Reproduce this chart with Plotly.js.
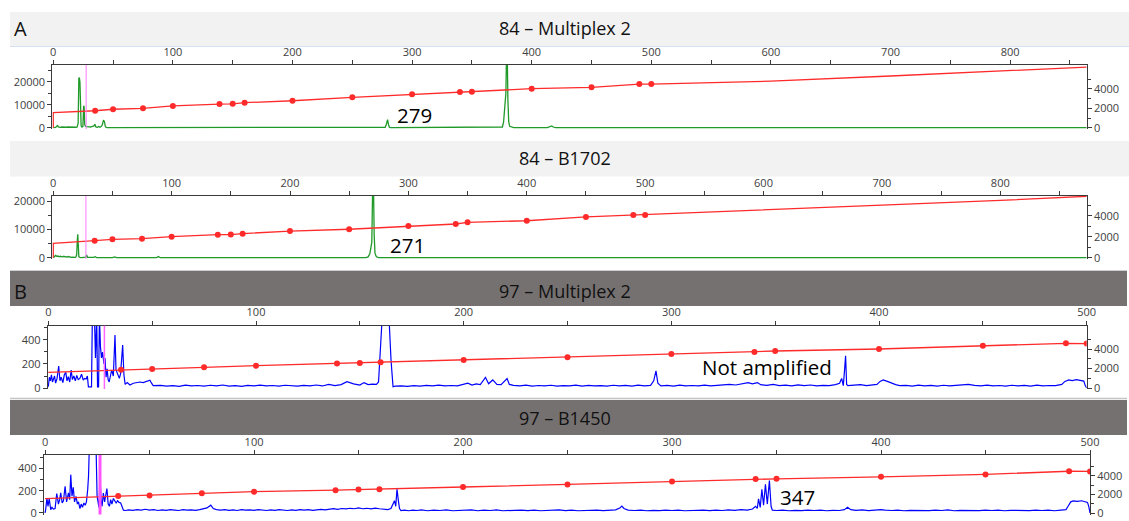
<!DOCTYPE html>
<html><head><meta charset="utf-8">
<script src="https://cdn.plot.ly/plotly-3.0.1.min.js"></script>
<style>html,body{margin:0;padding:0;background:#fff;}#chart{width:1129px;height:521px;}</style>
</head><body><div id="chart"></div>
<script>
// ---------- DATA ----------
const panelTitles = ["84 – Multiplex 2", "84 – B1702", "97 – Multiplex 2", "97 – B1450"];
const panelLetters = ["A", "B"];
const peakLabels = ["279", "271", "Not amplified", "347"];
const sizeStd = [35,50,75,100,139,150,160,200,250,300,340,350,400,450,490,500];
const primerPeakSize = [27.5, 27.6, 27, 26.3];
const rfuTicksAB = [0, 10000, 20000];
const rfuTicksCD = [0, 200, 400];
const scanTicks = [0, 2000, 4000];

// size-standard calibration (right axis, data points)
const p1StdScan = [1750,1900,2000,2240,2440,2460,2580,2780,3130,3440,3680,3700,4020,4160,4500,4500];
const p1LineSize = [0,0,35,50,75,100,139,150,160,200,250,300,340,350,400,450,490,500,600,700,800,864];
const p1LineScan = [0,1546,1750,1900,2000,2240,2440,2460,2580,2780,3130,3440,3680,3700,4020,4160,4500,4500,4800,5330,5900,6250];

const p2StdScan = [1620,1750,1810,2000,2190,2200,2290,2540,2710,3020,3210,3370,3520,3880,4070,4070];
const p2LineSize = [0,0,35,50,75,100,139,150,160,200,250,300,340,350,400,450,490,500,600,700,800,873];
const p2LineScan = [0,1370,1620,1750,1810,2000,2190,2200,2290,2540,2710,3020,3210,3370,3520,3880,4070,4070,4550,5000,5450,5850];

const p3StdScan = [1877,1949,2123,2287,2513,2564,2636,2872,3149,3487,3692,3795,4000,4338,4585,4560];
const p3LineSize = [0,35,50,75,100,139,150,160,200,250,300,340,350,400,450,490,500];
const p3LineScan = [1610,1877,1949,2123,2287,2513,2564,2636,2872,3149,3487,3692,3795,4000,4338,4585,4560];

const p4StdScan = [1830,1900,2130,2300,2460,2530,2560,2800,3080,3400,3660,3680,3900,4160,4500,4480];
const p4LineSize = [0,35,50,75,100,139,150,160,200,250,300,340,350,400,450,490,500];
const p4LineScan = [1560,1830,1900,2130,2300,2460,2530,2560,2800,3080,3400,3660,3680,3900,4160,4500,4480];

// sample traces (size in bp, RFU)
const p1Size = [0,1,2,3,3.6,4.2,5,6,7,8,9,10,11,12,13,14,15,16,17,18,19,20,20.8,21.4,21.8,22.3,22.8,23.3,24,24.8,25.4,25.8,26.3,27,28,29,30,31,32,33,34,34.8,35.6,37,38,39,40,41,42,42.8,43.6,45,275,277.5,278.5,279.5,280.3,281,282,374,375.5,376.5,377.2,377.8,378.4,378.9,379.6,380.1,380.8,381.6,383,385,413,415,416.8,418,420,864];
const p1Rfu = [0,200,100,700,1100,300,200,150,300,200,350,150,200,300,250,200,350,200,150,250,200,300,2000,21500,21800,20000,12000,800,300,600,9500,9000,1500,600,500,300,400,300,500,600,800,1500,300,200,500,200,500,1200,3300,2600,400,0,0,200,1500,3500,1400,200,0,0,300,2500,7000,7700,15000,30000,30000,12000,2500,600,200,0,0,400,750,300,0,0];

const p2Size = [0,1,2,3,4,5,6,7,8,9,10,11,12,13,14,15,16,17,18,19,19.8,20.3,20.7,21.1,21.6,22.5,24,27.5,28.2,29,31,34,35.6,36.8,50,52,53.5,87,88.8,90.5,264,266,267.5,268.5,269.1,269.8,270.5,271.1,271.8,273,275,873];
const p2Rfu = [0,300,800,500,600,300,500,400,300,500,300,400,200,400,200,100,200,100,100,200,1000,6000,8300,5000,400,100,0,200,950,100,0,100,350,0,0,250,0,0,400,0,0,300,1500,5000,5500,24000,26000,8000,1500,300,0,0];

const p3Size = [0,0.5,1,1.5,2,3,3.5,4.2,5,5.6,6.2,7,7.7,8.4,9,9.6,10.3,11,11.6,12.3,13,13.7,14.4,15.2,16,16.8,17.5,18.2,18.8,19.3,20.8,21.2,22.2,22.7,23.3,23.7,24.2,24.6,25.1,25.6,26.1,26.8,27.3,27.8,28.3,28.8,29.3,30,30.5,31.3,32.1,32.6,33.2,34.2,34.8,35.8,36.4,37,38,39.3,40.9,42.5,44.1,45.7,47.3,48.9,49.7,50.5,
 54,57,60,63,66,69,72,75,78,81,84,87,90,93,96,99,102,105,108,111,114,117,120,123,126,129,132,135,138,141,143.8,147,150,152,154,156,158,159,159.5,160,160.8,162,163,164,164.6,165,165.5,166,167,170,173,176,179,182,185,188,191,194,197,200,202,204,206,208,210.5,212,214,216,218,220.9,222,224,227,230,233,236,239,242,245,248,251,254,257,260,263,266,269,272,275,278,281,284,287,290,291.5,292.6,293.5,295,298,301,304,307,310,313,316,319,322,325,328,331,334,337,339,341.5,343,346,349,352,355,358,361,364,367,370,373,376,379,381,382,382.8,383.4,383.9,384.4,385,388,391,394,397,399,400.5,402,404,406,408,410,413,416,419,422,425,428,431,434,437,440,443,446,449,452,455,458,461,464,467,470,473,476,479,482,485,488,489.5,491.4,493,495,497,498.6,499.3,500];
const p3Rfu = [10,90,60,110,50,100,40,80,183,60,90,45,110,130,60,95,50,150,70,100,60,105,70,80,115,65,80,75,100,10,10,600,600,250,600,10,10,600,345,250,300,200,250,90,160,70,50,100,150,100,442,150,120,80,120,358,110,30,45,25,40,45,50,45,55,65,40,20,
 22,15,20,14,24,17,21,15,23,18,25,16,20,14,22,17,24,18,21,15,23,19,16,22,18,25,17,30,20,28,53,35,25,45,28,32,30,50,200,440,600,560,600,600,300,240,120,10,15,18,14,20,16,22,18,24,17,21,18,30,40,25,35,28,89,35,67,30,28,78,30,22,18,24,16,21,17,23,15,20,18,24,16,22,17,20,15,23,18,22,16,24,18,22,60,142,40,18,22,16,24,18,21,17,24,18,22,20,30,25,32,45,35,45,28,22,30,20,24,18,26,20,25,18,22,20,28,40,80,20,150,269,30,20,24,28,20,26,30,55,67,55,40,28,20,22,16,24,18,22,15,23,18,21,26,30,22,18,24,17,21,15,23,18,22,16,24,18,21,20,30,55,68,62,70,64,58,20,0];

const p4Size = [0,0.3,0.9,1.4,2.0,2.7,3.3,4.0,4.8,5.6,6.4,7.0,7.5,8.2,8.8,9.6,10.3,11.2,11.8,12.3,12.9,13.5,14.1,14.8,15.5,16.0,16.7,17.3,17.9,18.6,19.2,19.8,20.4,20.8,21.2,22.5,23.8,24.4,24.9,25.3,25.8,26.3,26.8,27.3,27.9,28.5,29.1,29.6,30.2,30.8,31.4,32.0,32.7,33.4,34.0,34.7,35.4,36.2,36.9,37.5,38.5,40,42,44,46,48,50,52,54,56,58,60,62,64,66,68,70,72,74,76,77.5,79.3,80.5,82,84,86,88,90,92,94,96,98,100,102,104,106,108,110,112,114,116,118,120,122,124,126,128,130,132,134,136,138,140,142,144,146,148,150,152,154,156,158,160,162,164,165.5,166.5,167.2,167.8,168.4,169,169.6,170.3,172,174,176,178,180,183,186,189,192,195,198,201,204,207,210,213,216,219,222,225,228,231,234,237,240,243,246,249,252,255,258,261,264,267,270,273,275,276,277,279,282,285,288,291,294,297,300,303,306,309,312,315,318,321,324,327,330,333,336,338.5,340,340.8,341.4,342.2,343,343.8,344.7,345.6,346.6,347.4,348,350,353,356,359,362,365,368,371,374,377,380,382.5,384,385.5,388,391,394,397,400,402,405,408,411,414,417,420,423,426,429,432,435,438,441,444,447,450,453,456,459,462,465,468,471,474,477,480,483,486,488.5,489.5,490.8,492,494,496,498,498.8,499.4,500];
const p4Rfu = [0,30,135,60,130,30,50,35,40,175,80,120,180,90,110,240,100,180,120,345,150,230,100,150,80,100,40,80,50,90,70,100,210,330,600,600,600,600,150,80,50,343,120,60,180,100,150,220,80,60,120,80,130,100,90,110,95,90,60,25,22,28,24,30,26,33,25,30,22,28,24,30,26,22,30,25,28,23,30,35,45,70,40,30,25,30,24,28,22,30,25,28,24,30,26,22,28,24,30,25,22,28,24,30,26,30,24,28,32,28,36,38,33,40,36,42,38,45,38,42,36,44,38,34,30,40,90,110,60,214,120,40,22,25,20,26,22,28,20,25,22,27,20,24,22,28,20,25,22,27,20,24,22,26,21,25,20,24,22,27,21,25,20,24,22,26,21,25,28,45,62,40,25,22,26,20,24,21,25,22,26,20,24,22,26,21,25,22,28,24,30,26,35,60,40,128,50,214,70,257,80,291,60,25,22,26,20,24,21,26,22,25,20,24,22,30,51,30,24,27,21,25,30,26,22,26,20,24,22,26,21,25,22,27,20,24,22,26,21,25,22,26,20,24,22,26,21,25,22,26,20,25,30,60,100,108,104,110,102,95,60,0];

// ---------- LAYOUT HELPERS ----------
const W = 1129, H = 521;
const px = v => v / W;
const py = v => 1 - v / H;
const axisCol = '#3a3a3a';
const tickFont = {family: 'Open Sans, sans-serif', size: 11, color: '#404040'};

function xAx(l, r, range, anchor) {
  return {domain: [px(l), px(r)], range: range, side: 'top', anchor: anchor,
    showline: true, linecolor: axisCol, linewidth: 1, ticks: 'outside', ticklen: 4, tickcolor: axisCol,
    tick0: 0, dtick: 100, minor: {dtick: 50, ticks: 'outside', ticklen: 4, tickcolor: axisCol, showgrid: false},
    showgrid: false, zeroline: false, tickfont: tickFont, fixedrange: true, ticklabeloverflow: 'allow'};
}
function yAx(t, b, range, anchor, vals, minorVals, side, overlay) {
  const a = {domain: [py(b), py(t)], range: range, anchor: anchor, side: side,
    showline: true, linecolor: axisCol, linewidth: 1, ticks: 'outside', ticklen: 4, tickcolor: axisCol,
    tickmode: 'array', tickvals: vals, ticktext: vals.map(String),
    minor: {tickvals: minorVals, ticks: 'outside', ticklen: 3, tickcolor: axisCol, showgrid: false},
    showgrid: false, zeroline: false, tickfont: tickFont, fixedrange: true, ticklabeloverflow: 'allow'};
  if (overlay) a.overlaying = overlay;
  return a;
}

const green = '#1f9a28', blue = '#0000ff', red = '#ff2b2b';
const traces = [
  {x: p1Size, y: p1Rfu, xaxis: 'x', yaxis: 'y', mode: 'lines', line: {color: green, width: 1.3}},
  {x: p2Size, y: p2Rfu, xaxis: 'x2', yaxis: 'y2', mode: 'lines', line: {color: green, width: 1.3}},
  {x: p3Size, y: p3Rfu, xaxis: 'x3', yaxis: 'y3', mode: 'lines', line: {color: blue, width: 1.2}},
  {x: p4Size, y: p4Rfu, xaxis: 'x4', yaxis: 'y4', mode: 'lines', line: {color: blue, width: 1.2}},
  {x: p1LineSize, y: p1LineScan, xaxis: 'x', yaxis: 'y5', mode: 'lines', line: {color: red, width: 1.3}},
  {x: p2LineSize, y: p2LineScan, xaxis: 'x2', yaxis: 'y6', mode: 'lines', line: {color: red, width: 1.3}},
  {x: p3LineSize, y: p3LineScan, xaxis: 'x3', yaxis: 'y7', mode: 'lines', line: {color: red, width: 1.3}},
  {x: p4LineSize, y: p4LineScan, xaxis: 'x4', yaxis: 'y8', mode: 'lines', line: {color: red, width: 1.3}},
  {x: sizeStd, y: p1StdScan, xaxis: 'x', yaxis: 'y5', mode: 'markers', marker: {color: red, size: 6}},
  {x: sizeStd, y: p2StdScan, xaxis: 'x2', yaxis: 'y6', mode: 'markers', marker: {color: red, size: 6}},
  {x: sizeStd, y: p3StdScan, xaxis: 'x3', yaxis: 'y7', mode: 'markers', marker: {color: red, size: 6}},
  {x: sizeStd, y: p4StdScan, xaxis: 'x4', yaxis: 'y8', mode: 'markers', marker: {color: red, size: 6}}
];

const shapes = [
  {type: 'rect', xref: 'paper', yref: 'paper', x0: px(10), x1: px(1129), y0: py(46), y1: py(12), fillcolor: '#f2f2f2', line: {width: 0}, layer: 'below'},
  {type: 'line', xref: 'paper', yref: 'paper', x0: px(10), x1: px(1129), y0: py(46.5), y1: py(46.5), line: {color: '#d3e1f3', width: 1}},
  {type: 'rect', xref: 'paper', yref: 'paper', x0: px(10), x1: px(1129), y0: py(176.5), y1: py(141), fillcolor: '#f2f2f2', line: {width: 0}, layer: 'below'},
  {type: 'rect', xref: 'paper', yref: 'paper', x0: px(10), x1: px(1127), y0: py(306), y1: py(271), fillcolor: '#767171', line: {width: 0}, layer: 'below'},
  {type: 'line', xref: 'paper', yref: 'paper', x0: px(10), x1: px(1127), y0: py(270.5), y1: py(270.5), line: {color: '#cfcfcf', width: 1}},
  {type: 'rect', xref: 'paper', yref: 'paper', x0: px(10), x1: px(1127), y0: py(435), y1: py(400), fillcolor: '#767171', line: {width: 0}, layer: 'below'},
  {type: 'line', xref: 'paper', yref: 'paper', x0: px(10), x1: px(1127), y0: py(398.5), y1: py(398.5), line: {color: '#c4c4c4', width: 1.5}},
  {type: 'line', xref: 'x', yref: 'y domain', x0: primerPeakSize[0], x1: primerPeakSize[0], y0: 0, y1: 1, line: {color: '#ff7cff', width: 1}},
  {type: 'line', xref: 'x2', yref: 'y2 domain', x0: primerPeakSize[1], x1: primerPeakSize[1], y0: 0, y1: 1, line: {color: '#ff7cff', width: 1}},
  {type: 'line', xref: 'x3', yref: 'y3 domain', x0: primerPeakSize[2], x1: primerPeakSize[2], y0: 0, y1: 1, line: {color: '#ff66ff', width: 1.5}},
  {type: 'line', xref: 'x4', yref: 'y4 domain', x0: primerPeakSize[3], x1: primerPeakSize[3], y0: 0, y1: 1, line: {color: '#ff55ff', width: 3}}
];

const titleFont = {family: 'Open Sans, sans-serif', size: 18, color: '#111'};
const letterFont = {family: 'Open Sans, sans-serif', size: 20, color: '#111'};
const labelFont = {family: 'Open Sans, sans-serif', size: 20.5, color: '#000'};
function ann(text, x, y, font, xanchor) {
  return {text: text, xref: 'paper', yref: 'paper', x: px(x), y: py(y), showarrow: false,
    xanchor: xanchor || 'center', yanchor: 'middle', font: font};
}
const annotations = [
  ann(panelLetters[0], 12, 28, letterFont, 'left'),
  ann(panelLetters[1], 12, 291, letterFont, 'left'),
  ann(panelTitles[0], 565, 28, titleFont),
  ann(panelTitles[1], 565, 158, titleFont),
  ann(panelTitles[2], 565, 291, titleFont),
  ann(panelTitles[3], 565, 418, titleFont),
  ann(peakLabels[0], 414, 115, labelFont),
  ann(peakLabels[1], 408, 245, labelFont),
  ann(peakLabels[2], 767, 367, labelFont),
  ann(peakLabels[3], 797, 497, labelFont)
];

const layout = {
  width: W, height: H, margin: {l: 0, r: 0, t: 0, b: 0, pad: 0},
  paper_bgcolor: '#ffffff', plot_bgcolor: 'rgba(0,0,0,0)', showlegend: false,
  xaxis:  xAx(52.3, 1086.7, [-0.8, 864], 'y'),
  xaxis2: xAx(52.3, 1086.7, [-0.8, 873], 'y2'),
  xaxis3: xAx(47.7, 1086.7, [-0.3, 500], 'y3'),
  xaxis4: xAx(44, 1090, [-0.5, 500], 'y4'),
  yaxis:  yAx(65, 129, [-565, 27261], 'x', rfuTicksAB, [5000,15000,25000], 'left'),
  yaxis2: yAx(196, 259, [-459, 21802], 'x2', rfuTicksAB, [5000,15000], 'left'),
  yaxis3: yAx(325.7, 389, [-8.3, 519], 'x3', rfuTicksCD, [100,300,500], 'left'),
  yaxis4: yAx(455, 514.5, [-14, 522], 'x4', rfuTicksCD, [100,300,500], 'left'),
  yaxis5: yAx(65, 129, [-134, 6464], 'x', scanTicks, [1000,3000,5000], 'right', 'y'),
  yaxis6: yAx(196, 259, [-124, 5876], 'x2', scanTicks, [1000,3000,5000], 'right', 'y2'),
  yaxis7: yAx(325.7, 389, [-103, 6390], 'x3', scanTicks, [1000,3000,5000], 'right', 'y3'),
  yaxis8: yAx(455, 514.5, [-160, 6250], 'x4', scanTicks, [1000,3000,5000], 'right', 'y4'),
  shapes: shapes, annotations: annotations
};

Plotly.newPlot('chart', traces, layout, {staticPlot: true, displayModeBar: false});
</script></body></html>
